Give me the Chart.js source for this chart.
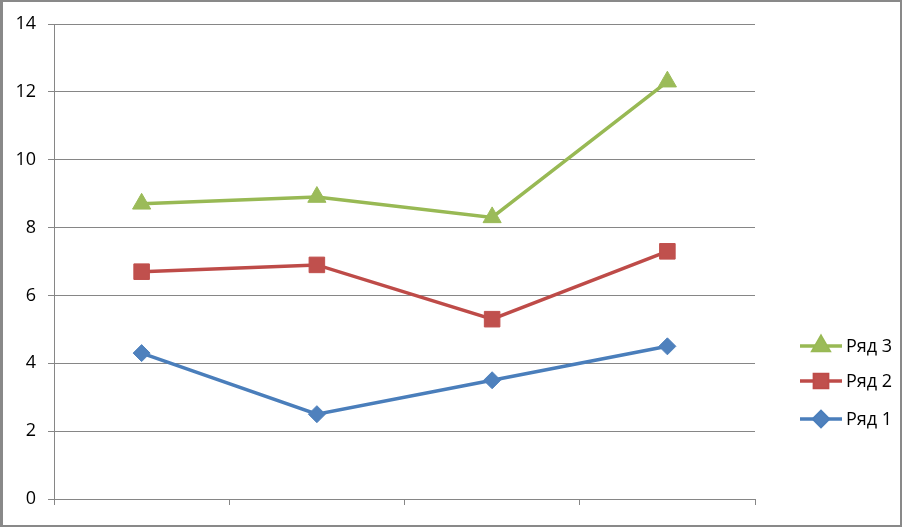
<!DOCTYPE html>
<html>
<head>
<meta charset="utf-8">
<script src="https://cdn.jsdelivr.net/npm/chart.js@4/dist/chart.umd.min.js"></script>
<style>
    html, body { margin: 0; padding: 0; background: #fff; }
    #wrap { position: relative; width: 902px; height: 527px; }
    #frame { position: absolute; left: 0; top: 0; width: 902px; height: 527px; box-sizing: border-box; border: 2px solid #898989; border-left-width: 3px; pointer-events: none; }
    #chart { position: absolute; left: 0; top: 0; }
</style>
</head>
<body>
<div id="wrap">
    <canvas id="chart" width="902" height="527"></canvas>
    <div id="frame"></div>
</div>
<script>
// ── DATA ────────────────────────────────────────────────
const categories = ['1', '2', '3', '4'];
const seriesNames = ['Ряд 1', 'Ряд 2', 'Ряд 3'];
const row1 = [4.3, 2.5, 3.5, 4.5];
const row2 = [6.7, 6.9, 5.3, 7.3];
const row3 = [8.7, 8.9, 8.3, 12.3];
const yTicks = [0, 2, 4, 6, 8, 10, 12, 14];

const FONT = '"Open Sans", "DejaVu Sans", sans-serif';
const GRID = '#868686';

const styles = [
    {line: '#4A7EBB', fill: '#4F81BD', pointStyle: 'rectRot', radius: 8.5},
    {line: '#BE4B48', fill: '#C0504D', pointStyle: 'rect', radius: 11},
    {line: '#98B954', fill: '#9BBB59', pointStyle: 'triangle', radius: 10.5}
];

const datasets = [row1, row2, row3].map((vals, i) => ({
    label: seriesNames[i],
    data: vals,
    borderColor: styles[i].line,
    backgroundColor: styles[i].fill,
    pointBackgroundColor: styles[i].fill,
    pointBorderColor: styles[i].fill,
    pointBorderWidth: 1,
    pointStyle: styles[i].pointStyle,
    pointRadius: styles[i].radius,
    pointHoverRadius: styles[i].radius,
    borderWidth: 3.5,
    tension: 0,
    fill: false
}));

// legend on the right: line sample with marker, reversed order
const sideLegend = {
    id: 'sideLegend',
    afterDraw(chart) {
        const ctx = chart.ctx;
        const rows = [2, 1, 0];
        const ys = [346, 381, 419];
        ctx.save();
        rows.forEach((di, k) => {
            const y = ys[k];
            const st = styles[di];
            ctx.strokeStyle = st.line;
            ctx.lineWidth = 3.5;
            ctx.beginPath();
            ctx.moveTo(800, y);
            ctx.lineTo(842, y);
            ctx.stroke();
            Chart.helpers.drawPoint(ctx, {
                pointStyle: st.pointStyle,
                radius: st.radius * 0.85,
                rotation: 0,
                borderWidth: 1
            }, 821, y);
            ctx.fillStyle = st.fill;
            ctx.strokeStyle = st.fill;
            ctx.fill();
            ctx.fillStyle = '#000';
            ctx.font = '18px ' + FONT;
            ctx.textBaseline = 'middle';
            ctx.textAlign = 'left';
            ctx.fillText(seriesNames[di], 846, y + 1);
        });
        ctx.restore();
    }
};

new Chart(document.getElementById('chart'), {
    type: 'line',
    data: {labels: categories, datasets: datasets},
    plugins: [sideLegend],
    options: {
        responsive: false,
        animation: false,
        layout: {padding: {top: 24, left: 0, right: 147, bottom: 0}},
        plugins: {
            legend: {display: false},
            tooltip: {enabled: false}
        },
        scales: {
            x: {
                offset: true,
                grid: {offset: true, drawOnChartArea: false, drawTicks: true, tickLength: 6, color: GRID},
                border: {display: true, color: GRID},
                ticks: {display: false},
                afterFit: s => { s.height = 28; }
            },
            y: {
                min: 0,
                max: 14,
                afterBuildTicks: s => { s.ticks = yTicks.map(v => ({value: v})); },
                grid: {color: GRID, tickLength: 6, lineWidth: 1},
                border: {display: true, color: GRID},
                ticks: {color: '#000', padding: 12, font: {size: 18, family: FONT}},
                afterFit: s => { s.width = 54; }
            }
        }
    }
});
</script>
</body>
</html>
